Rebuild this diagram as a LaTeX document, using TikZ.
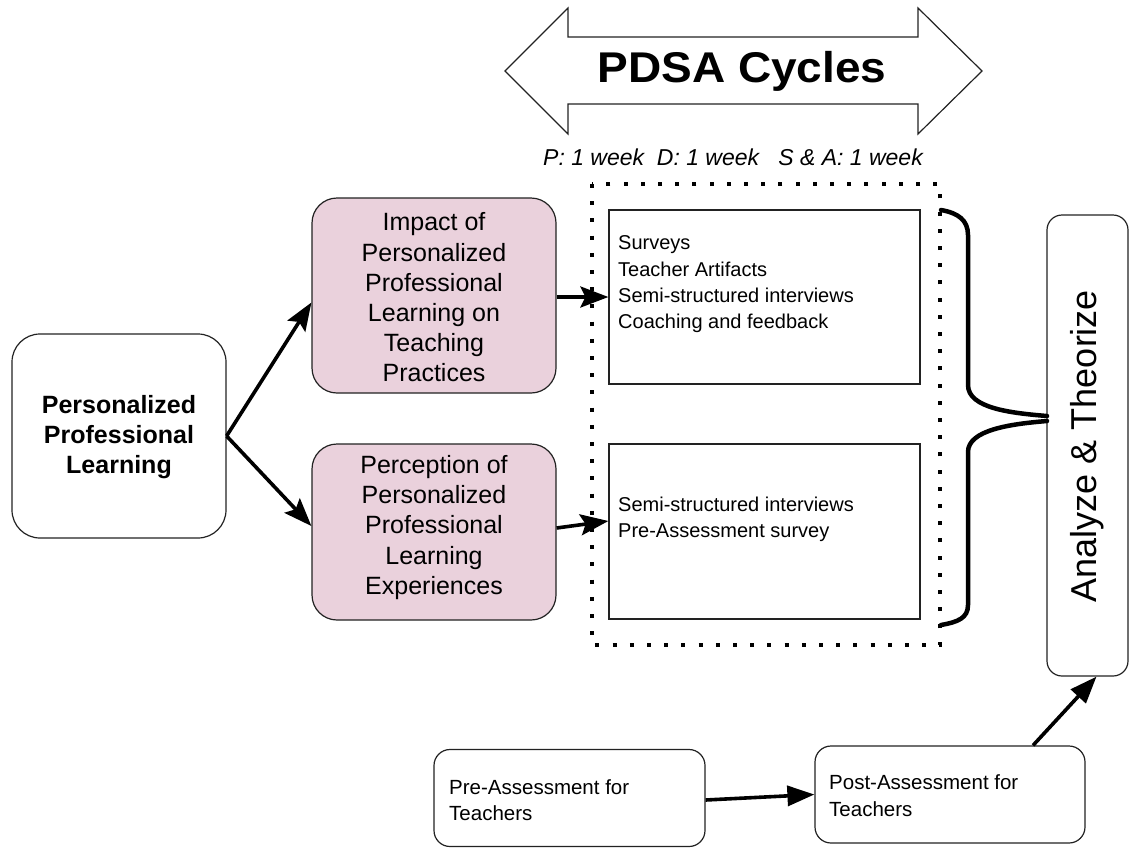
\documentclass[tikz,border=0pt]{standalone}
\usepackage{fontspec}
\setmainfont{Liberation Sans}
\usetikzlibrary{arrows.meta,calc}
\definecolor{pinkfill}{HTML}{EAD1DC}
\definecolor{edge}{HTML}{222222}
\begin{document}
\begin{tikzpicture}[x=1pt,y=-1pt,
  box/.style={draw=edge,line width=1.2pt,inner sep=0pt},
  rbox/.style={box,rounded corners=#1},
  conn/.style={line width=3.6pt,-{Stealth[length=28pt,width=21pt,inset=5pt]}},
  flatconn/.style={line width=3.6pt,-{Triangle[length=27pt,width=20pt]}},
  bracepath/.style={line width=4.5pt,line cap=round},
  dataline/.style={inner sep=0pt,align=left,anchor=west,font=\fontsize{20}{26.3}\selectfont}
]
\useasboundingbox (0,0) rectangle (1130,847);

% double-headed PDSA arrow
\draw[draw=edge,line width=1.2pt] (505,71) -- (568,8) -- (568,37) -- (918,37) -- (918,8) -- (982,71)
  -- (918,134) -- (918,104) -- (568,104) -- (568,134) -- cycle;
\node[inner sep=0pt,xscale=1.07,font=\fontsize{43}{48}\selectfont\bfseries] (pdsa) at (742,71) {PDSA Cycles};
\node[inner sep=0pt,font=\fontsize{23}{27}\selectfont\itshape] (timing) at (733,157) {P: 1 week~~D: 1 week~~~S \& A: 1 week};

% source node
\node[rbox=28pt,minimum width=214pt,minimum height=204pt] (ppl) at (119,436) {};
\node[align=center,inner sep=0pt,font=\fontsize{25}{30}\selectfont\bfseries] (pplt) at (119,437) {Personalized\\Professional\\Learning};

% two focus areas
\node[rbox=25pt,fill=pinkfill,minimum width=244pt,minimum height=195pt] (imp) at (434,295.5) {};
\node[align=center,inner sep=0pt,font=\fontsize{25}{30.2}\selectfont] (impt) at (434,297.5)
  {Impact of\\Personalized\\Professional\\Learning on\\Teaching\\Practices};
\node[rbox=25pt,fill=pinkfill,minimum width=244pt,minimum height=176pt] (per) at (434,532) {};
\node[align=center,inner sep=0pt,font=\fontsize{25}{30.2}\selectfont] (pert) at (434,527.5)
  {Perception of\\Personalized\\Professional\\Learning\\Experiences};

% PDSA data collection frame
\draw[line width=4pt,dash pattern=on 4pt off 13.2pt] (592,184) rectangle (940,645);
\node[box,minimum width=311pt,minimum height=174pt] (dA) at (764.5,297) {};
\node[dataline] (dAt) at (618,284.5) {Surveys\\Teacher Artifacts\\Semi-structured interviews\\Coaching and feedback};
\node[box,minimum width=311pt,minimum height=175pt] (dB) at (764.5,531.5) {};
\node[dataline] (dBt) at (618,519) {Semi-structured interviews\\Pre-Assessment survey};

% analysis box
\node[rbox=15pt,minimum width=81pt,minimum height=461pt] (an) at (1087.5,445.5) {};
\node[rotate=90,inner sep=0pt,font=\fontsize{36}{40}\selectfont] (ant) at (1087,446) {Analyze \& Theorize};

% brace joining the two data boxes
\draw[bracepath] (941,210) .. controls (958,213) and (968,220) .. (968,235) -- (968,385)
  .. controls (968,408) and (1010,413) .. (1047,416);
\draw[bracepath] (1047,421) .. controls (1010,424) and (968,430) .. (968,452) -- (968,605)
  .. controls (968,618) and (958,622) .. (941,625);

% assessments
\node[rbox=16pt,minimum width=271pt,minimum height=97pt] (pre) at (569.5,798) {};
\node[dataline,font=\fontsize{20.5}{26.5}\selectfont] (pret) at (449,800) {Pre-Assessment for\\Teachers};
\node[rbox=16pt,minimum width=270pt,minimum height=97pt] (post) at (950,794.5) {};
\node[dataline,font=\fontsize{20.5}{26.5}\selectfont] (postt) at (829,795.5) {Post-Assessment for\\Teachers};

% connectors
\draw[conn] (ppl.east) -- ($(imp.west)+(0,7)$);
\draw[conn] (ppl.east) -- ($(per.west)+(0,-6)$);
\draw[conn] ($(imp.east)+(0,1.5)$) -- (dA.west);
\draw[conn] ($(per.east)+(0,-4)$) -- ($(dB.west)+(0,-10.5)$);
\draw[flatconn] ($(pre.east)+(0,2)$) -- (post.west);
\draw[flatconn] ($(post.north)+(83,0)$) -- ($(an.south)+(9,0)$);
\end{tikzpicture}
\end{document}
